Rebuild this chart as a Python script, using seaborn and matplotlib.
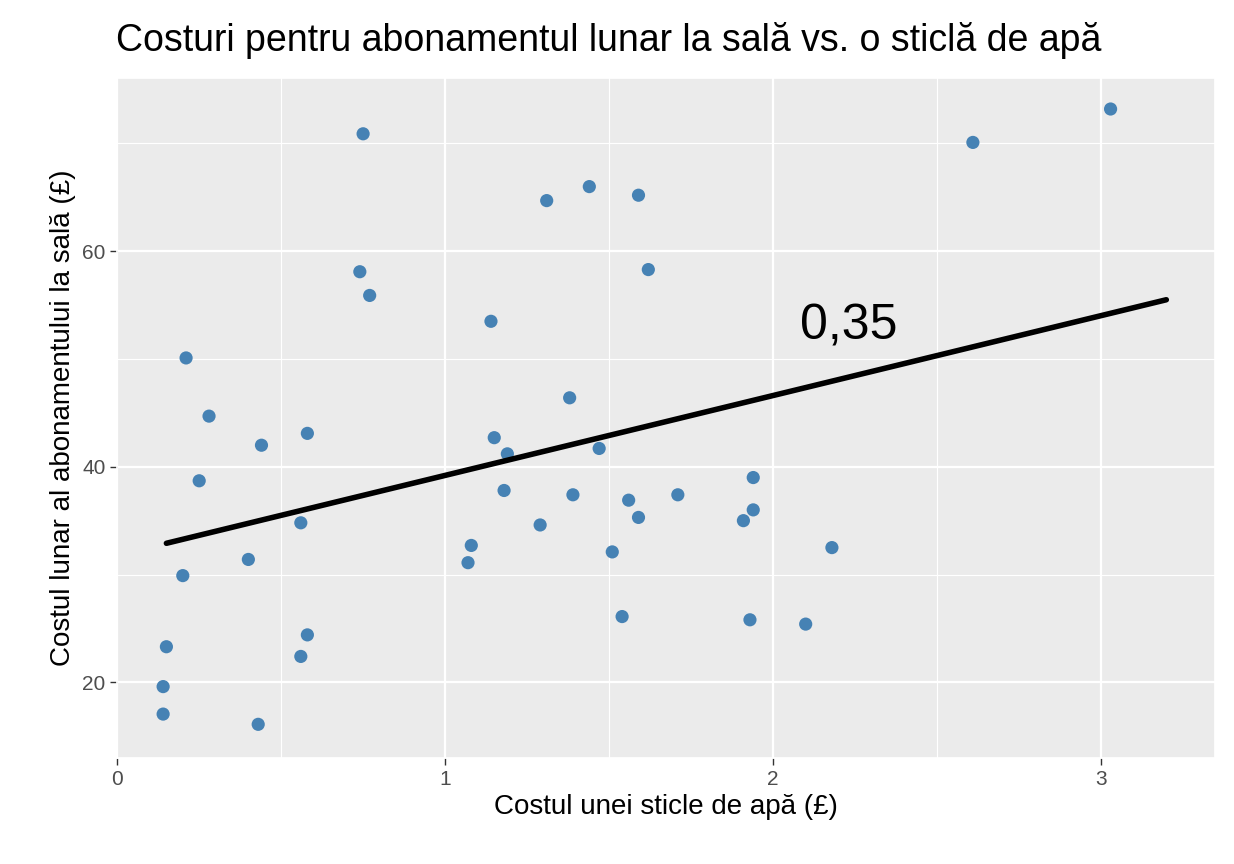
import matplotlib
matplotlib.use("Agg")
import matplotlib.pyplot as plt
import seaborn as sns
import pandas as pd

water = [0.14,0.14,0.15,0.20,0.21,0.25,0.28,0.40,0.43,0.44,0.56,0.56,0.58,0.58,0.74,0.75,0.77,
         1.07,1.08,1.14,1.15,1.18,1.19,1.29,1.31,1.38,1.39,1.44,1.47,1.51,1.54,1.56,1.59,1.59,1.62,
         1.71,1.91,1.93,1.94,1.94,2.10,2.18,2.61,3.03]
gym = [17.05,19.6,23.3,29.9,50.1,38.7,44.7,31.4,16.1,42.0,34.8,22.4,43.1,24.4,58.1,70.9,55.9,
       31.1,32.7,53.5,42.7,37.8,41.2,34.6,64.7,46.4,37.4,66.0,41.7,32.1,26.1,36.9,35.3,65.2,58.3,
       37.4,35.0,25.8,39.0,36.0,25.4,32.5,70.1,73.2]
line_x = [0.15, 3.20]
line_y = [32.9, 55.5]
corr_label = "0,35"

sns.set_theme(style="darkgrid", rc={"axes.facecolor": "#EBEBEB", "grid.color": "white"})
plt.rcParams['font.family'] = ['Liberation Sans', 'DejaVu Sans']
plt.rcParams['text.color'] = 'black'
plt.rcParams['axes.labelcolor'] = 'black'
fig = plt.figure(figsize=(12.34, 8.64), dpi=100)
ax = fig.add_axes([0.095, 0.123, 0.89, 0.787])
df = pd.DataFrame({"w": water, "g": gym})
sns.scatterplot(data=df, x="w", y="g", ax=ax, color="#4682B4", s=90, edgecolor="none")
sns.lineplot(x=line_x, y=line_y, ax=ax, color="black", linewidth=4)
ax.text(2.23, 53, corr_label, fontsize=36, ha="center", va="center")
ax.set_xlim(0, 3.35)
ax.set_ylim(13, 76.1)
ax.set_xticks([0, 1, 2, 3])
ax.set_yticks([20, 40, 60])
ax.set_xticks([0.5, 1.5, 2.5], minor=True)
ax.set_yticks([30, 50, 70], minor=True)
ax.grid(which="major", color="white", linewidth=1.6)
ax.grid(which="minor", color="white", linewidth=0.8)
ax.tick_params(labelsize=15, labelcolor="#4D4D4D", color="#333333", length=5, width=1, which="major",
               bottom=True, left=True)
ax.tick_params(which="minor", length=0)
ax.set_xlabel("Costul unei sticle de apă (£)", fontsize=20)
ax.set_ylabel("Costul lunar al abonamentului la sală (£)", fontsize=20)
fig.text(0.094, 0.953, "Costuri pentru abonamentul lunar la sală vs. o sticlă de apă", fontsize=27, va="center")
fig.savefig("out.png", dpi=100)
